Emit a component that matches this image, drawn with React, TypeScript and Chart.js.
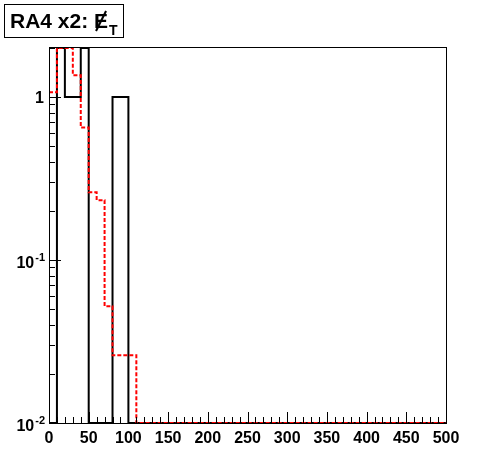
import React, { useEffect, useRef } from "react";
import { Chart, registerables } from "chart.js";

Chart.register(...registerables);

// Bin edges of the histograms (GeV)
const binEdges: number[] = [
  0, 10, 20, 30, 40, 50, 60, 70, 80, 90,
  100, 110, 120, 130, 140, 150, 160, 170, 180, 190,
  200, 210, 220, 230, 240, 250, 260, 270, 280, 290,
  300, 310, 320, 330, 340, 350, 360, 370, 380, 390,
  400, 410, 420, 430, 440, 450, 460, 470, 480, 490, 500,
];

// Black solid histogram (data)
const blackCounts: number[] = [
  0, 2, 1, 1, 2, 0, 0, 0, 1, 1,
  0, 0, 0, 0, 0, 0, 0, 0, 0, 0,
  0, 0, 0, 0, 0, 0, 0, 0, 0, 0,
  0, 0, 0, 0, 0, 0, 0, 0, 0, 0,
  0, 0, 0, 0, 0, 0, 0, 0, 0, 0,
];

// Red dashed histogram (prediction)
const redCounts: number[] = [
  1.07, 2.0, 2.0, 1.36, 0.65, 0.26, 0.233, 0.052, 0.026, 0.026,
  0.026, 0, 0, 0, 0, 0, 0, 0, 0, 0,
  0, 0, 0, 0, 0, 0, 0, 0, 0, 0,
  0, 0, 0, 0, 0, 0, 0, 0, 0, 0,
  0, 0, 0, 0, 0, 0, 0, 0, 0, 0,
];

const xTickValues: number[] = [0, 50, 100, 150, 200, 250, 300, 350, 400, 450, 500];
const xTickLabels: string[] = ["0", "50", "100", "150", "200", "250", "300", "350", "400", "450", "500"];
const yTickValues: number[] = [0.01, 0.1, 1];
const yTickBases: string[] = ["10", "10", "1"];
const yTickExps: string[] = ["-2", "-1", ""];

const titleMain = "RA4 x2: ";
const titleVar = "E";
const titleSub = "T";

const X_MIN = 0;
const X_MAX = 500;
const Y_MIN = 0.01;
const Y_MAX = 2.027;

function toSteps(counts: number[]) {
  const pts: { x: number; y: number }[] = [];
  for (let i = 0; i < counts.length; i++) {
    pts.push({ x: binEdges[i], y: counts[i] > 0 ? counts[i] : Y_MIN });
  }
  const last = counts[counts.length - 1];
  pts.push({ x: binEdges[binEdges.length - 1], y: last > 0 ? last : Y_MIN });
  return pts;
}

const FONT = '"Liberation Sans", Arial, Helvetica, sans-serif';

const framePlugin = {
  id: "rootFrame",
  afterDatasetsDraw(chart: any) {
    const ctx: CanvasRenderingContext2D = chart.ctx;
    const { left, right, top, bottom } = chart.chartArea;
    const xs = chart.scales.x;
    const ys = chart.scales.y;
    ctx.save();
    ctx.strokeStyle = "#000";
    ctx.lineWidth = 1;
    // frame
    ctx.strokeRect(Math.round(left) + 0.5, Math.round(top) + 0.5, Math.round(right - left), Math.round(bottom - top));

    // x ticks
    ctx.beginPath();
    for (let v = X_MIN; v <= X_MAX; v += 10) {
      const px = Math.round(xs.getPixelForValue(v)) + 0.5;
      const major = v % 50 === 0;
      ctx.moveTo(px, bottom);
      ctx.lineTo(px, bottom - (major ? 11 : 6));
    }
    // y ticks
    for (let dec = 0.01; dec < Y_MAX; dec *= 10) {
      for (let m = 1; m <= 9; m++) {
        const v = dec * m;
        if (v > Y_MAX) break;
        const py = Math.round(ys.getPixelForValue(v)) + 0.5;
        ctx.moveTo(left, py);
        ctx.lineTo(left + (m === 1 ? 12 : 6), py);
      }
    }
    ctx.stroke();

    // x labels
    ctx.fillStyle = "#000";
    ctx.font = `bold 16px ${FONT}`;
    ctx.textAlign = "center";
    ctx.textBaseline = "alphabetic";
    xTickValues.forEach((v, i) => {
      const px = xs.getPixelForValue(v);
      ctx.fillText(xTickLabels[i], px, bottom + 20);
    });

    // y labels
    yTickValues.forEach((v, i) => {
      const py = ys.getPixelForValue(v);
      const rightX = left - 4;
      const exp = yTickExps[i];
      ctx.textAlign = "right";
      if (exp) {
        ctx.font = `bold 11px ${FONT}`;
        const ew = ctx.measureText(exp).width;
        ctx.fillText(exp, rightX, py + 1);
        ctx.font = `bold 16px ${FONT}`;
        ctx.fillText(yTickBases[i], rightX - ew - 1, py + 8);
      } else {
        ctx.font = `bold 16px ${FONT}`;
        ctx.fillText(yTickBases[i], rightX - 1, py + 6);
      }
    });

    // title box
    ctx.fillStyle = "#fff";
    ctx.fillRect(4, 4, 119, 33);
    ctx.strokeRect(4.5, 4.5, 119, 33);
    ctx.fillStyle = "#000";
    ctx.textAlign = "left";
    ctx.font = `bold 21px ${FONT}`;
    ctx.fillText(titleMain, 10, 28);
    const w1 = ctx.measureText(titleMain).width;
    const ex = 10 + w1;
    ctx.fillText(titleVar, ex, 28);
    const ew = ctx.measureText(titleVar).width;
    ctx.lineWidth = 2;
    ctx.beginPath();
    ctx.moveTo(ex + 2, 31);
    ctx.lineTo(ex + ew - 2, 11);
    ctx.stroke();
    ctx.font = `bold 14px ${FONT}`;
    ctx.fillText(titleSub, ex + ew + 1, 35);
    ctx.restore();
  },
};

export default function App() {
  const canvasRef = useRef<HTMLCanvasElement | null>(null);

  useEffect(() => {
    if (!canvasRef.current) return;
    const chart = new Chart(canvasRef.current, {
      type: "line",
      data: {
        datasets: [
          {
            label: "prediction",
            data: toSteps(redCounts),
            stepped: true,
            borderColor: "#ff0000",
            borderWidth: 2,
            borderDash: [4, 2],
            pointRadius: 0,
            fill: false,
          },
          {
            label: "data",
            data: toSteps(blackCounts),
            stepped: true,
            borderColor: "#000000",
            borderWidth: 2,
            pointRadius: 0,
            fill: false,
          },
        ],
      },
      options: {
        responsive: false,
        animation: false,
        devicePixelRatio: 1,
        layout: { padding: { left: 49, top: 47, right: 50, bottom: 49 } },
        plugins: { legend: { display: false }, tooltip: { enabled: false }, title: { display: false } },
        scales: {
          x: { type: "linear", min: X_MIN, max: X_MAX, display: false },
          y: { type: "logarithmic", min: Y_MIN, max: Y_MAX, display: false },
        },
      },
      plugins: [framePlugin],
    } as any);
    return () => chart.destroy();
  }, []);

  return (
    <div style={{ position: "absolute", left: 0, top: 0, width: 496, height: 472, background: "#fff" }}>
      <canvas ref={canvasRef} width={496} height={472} style={{ width: 496, height: 472 }} />
    </div>
  );
}
